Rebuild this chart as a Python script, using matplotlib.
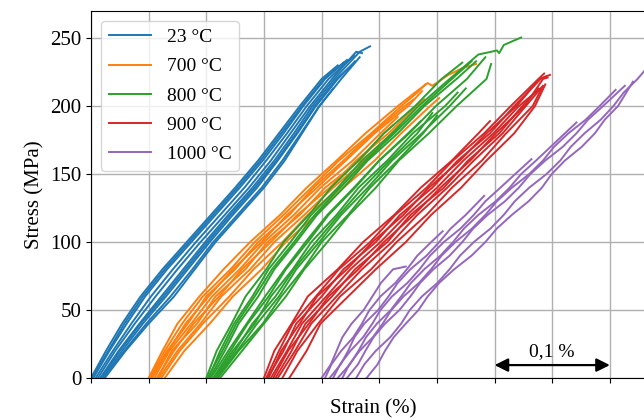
import matplotlib as mpl
mpl.use("Agg")
import matplotlib.pyplot as plt

# --- data: strain (%) at fixed stress levels (MPa) ---------------------------
# each curve = strains at the group's stress levels (until it stops) + tip points

STRESS_23 = [0, 20, 40, 60, 80, 100, 120, 140, 160, 180, 200, 220, 240]
STRAIN_23 = [
    [0.000, 0.013, 0.027, 0.043, 0.062, 0.083, 0.104, 0.125, 0.145, 0.163, 0.181, 0.200],
    [0.001, 0.015, 0.029, 0.045, 0.064, 0.085, 0.106, 0.127, 0.147, 0.165, 0.183, 0.202],
    [0.002, 0.016, 0.031, 0.047, 0.066, 0.087, 0.108, 0.129, 0.149, 0.167, 0.184, 0.203],
    [0.004, 0.019, 0.035, 0.052, 0.071, 0.091, 0.112, 0.133, 0.152, 0.170, 0.187, 0.206],
    [0.006, 0.021, 0.038, 0.056, 0.075, 0.095, 0.116, 0.137, 0.156, 0.173, 0.190, 0.209, 0.230],
    [0.008, 0.024, 0.042, 0.061, 0.080, 0.099, 0.119, 0.140, 0.159, 0.176, 0.192, 0.211, 0.233],
    [0.009, 0.025, 0.043, 0.063, 0.082, 0.101, 0.121, 0.142, 0.161, 0.178, 0.194, 0.213],
    [0.010, 0.027, 0.045, 0.065, 0.084, 0.103, 0.123, 0.144, 0.162, 0.179, 0.195, 0.214],
    [0.011, 0.029, 0.048, 0.069, 0.088, 0.106, 0.127, 0.148, 0.166, 0.182, 0.198, 0.217],
    [0.012, 0.030, 0.050, 0.072, 0.090, 0.108, 0.129, 0.150, 0.168, 0.183, 0.198],
]
TIPS_23 = [
    [(0.214, 230)], [(0.219, 232)], [(0.222, 234)], [(0.228, 237)], [(0.235, 239)],
    [(0.242, 244)], [(0.226, 230)], [(0.229, 233)], [(0.233, 236)], [(0.210, 213)],
]

STRESS_700 = [0, 20, 40, 60, 80, 100, 120, 140, 160, 180, 200, 220]
STRAIN_700 = [
    [0.050, 0.062, 0.075, 0.094, 0.115, 0.138, 0.164, 0.187, 0.213, 0.238, 0.266],
    [0.051, 0.064, 0.079, 0.097, 0.121, 0.142, 0.167, 0.191, 0.215, 0.243, 0.269],
    [0.052, 0.066, 0.084, 0.100, 0.125, 0.145, 0.172, 0.193, 0.219, 0.244, 0.272],
    [0.053, 0.067, 0.082, 0.102, 0.123, 0.148, 0.170, 0.196, 0.221, 0.246, 0.275],
    [0.055, 0.068, 0.087, 0.105, 0.129, 0.150, 0.176, 0.199, 0.227, 0.251],
    [0.057, 0.072, 0.089, 0.111, 0.131, 0.156, 0.179, 0.207, 0.230, 0.258, 0.282],
    [0.058, 0.070, 0.092, 0.108, 0.134, 0.153, 0.181, 0.203, 0.233, 0.254],
    [0.059, 0.075, 0.095, 0.113, 0.138, 0.159, 0.185, 0.210, 0.237, 0.261],
    [0.061, 0.077, 0.097, 0.120, 0.141, 0.166, 0.188, 0.216, 0.239],
    [0.064, 0.081, 0.103, 0.123, 0.148, 0.169, 0.195, 0.219, 0.246, 0.269, 0.294],
]
TIPS_700 = [
    [(0.281, 210), (0.292, 217), (0.296, 215), (0.310, 223), (0.322, 228), (0.334, 231)],
    [(0.283, 210), (0.290, 216)], [(0.280, 205)], [(0.287, 211)], [(0.266, 192)],
    [(0.289, 205)], [(0.262, 186)], [(0.268, 186)], [(0.251, 169)], [(0.302, 206)],
]

STRESS_800 = [0, 20, 40, 60, 80, 100, 120, 140, 160, 180, 200, 220, 240]
STRAIN_800 = [
    [0.100, 0.109, 0.122, 0.134, 0.152, 0.167, 0.189, 0.208, 0.232, 0.254, 0.281, 0.304],
    [0.101, 0.114, 0.126, 0.142, 0.157, 0.176, 0.194, 0.216, 0.238, 0.263, 0.287, 0.313],
    [0.102, 0.112, 0.124, 0.140, 0.154, 0.173, 0.191, 0.214, 0.235, 0.261, 0.284, 0.311],
    [0.103, 0.116, 0.128, 0.145, 0.159, 0.178, 0.196, 0.219, 0.240, 0.266, 0.289, 0.317],
    [0.104, 0.119, 0.135, 0.151, 0.168, 0.186, 0.205, 0.228, 0.250, 0.275],
    [0.106, 0.121, 0.136, 0.154, 0.169, 0.188, 0.206, 0.229, 0.250, 0.276, 0.299, 0.326],
    [0.107, 0.123, 0.142, 0.156, 0.175, 0.191, 0.213, 0.232, 0.257, 0.279, 0.307],
    [0.108, 0.125, 0.140, 0.160, 0.176, 0.195, 0.215, 0.236, 0.259, 0.283],
    [0.109, 0.127, 0.144, 0.163, 0.178, 0.198, 0.217, 0.240, 0.261, 0.287, 0.311],
    [0.110, 0.128, 0.149, 0.165, 0.184, 0.200, 0.223, 0.242, 0.266, 0.288],
    [0.112, 0.131, 0.150, 0.169, 0.185, 0.205, 0.224, 0.247, 0.267, 0.293, 0.317, 0.343],
]
TIPS_800 = [
    [(0.322, 232)],
    [(0.330, 233)],
    [(0.336, 238), (0.347, 240), (0.352, 241), (0.354, 239), (0.358, 245),
     (0.373, 250.5)],
    [(0.334, 233)], [(0.286, 189)], [(0.342, 236)], [(0.318, 210)],
    [(0.296, 195)], [(0.325, 213)], [(0.300, 193)], [(0.347, 231)],
]

STRESS_900 = [0, 20, 40, 60, 80, 100, 120, 140, 160, 180, 200, 220]
STRAIN_900 = [
    [0.150, 0.159, 0.174, 0.188, 0.214, 0.236, 0.263, 0.286, 0.313, 0.336],
    [0.152, 0.163, 0.175, 0.195, 0.215, 0.242, 0.264, 0.291, 0.314, 0.341, 0.364, 0.388],
    [0.153, 0.167, 0.178, 0.200, 0.219, 0.247, 0.268, 0.296, 0.318, 0.346, 0.367, 0.390],
    [0.154, 0.165, 0.181, 0.196, 0.222, 0.244, 0.271, 0.293, 0.320, 0.343, 0.369, 0.389],
    [0.156, 0.170, 0.183, 0.204, 0.225, 0.251, 0.274, 0.300, 0.323, 0.349, 0.371],
    [0.158, 0.171, 0.189, 0.206, 0.232, 0.254, 0.280, 0.303, 0.329, 0.351, 0.376, 0.392],
    [0.160, 0.174, 0.186, 0.209, 0.229, 0.257, 0.277, 0.306, 0.327, 0.354, 0.374],
    [0.162, 0.177, 0.191, 0.213, 0.235, 0.261, 0.283, 0.309, 0.332, 0.357, 0.377],
    [0.166, 0.179, 0.197, 0.216, 0.243, 0.265, 0.291, 0.313, 0.339, 0.360, 0.383],
    [0.172, 0.187, 0.199, 0.223, 0.247, 0.273, 0.295, 0.321, 0.343, 0.367, 0.385],
]
TIPS_900 = [
    [(0.346, 189)], [(0.393, 224)], [(0.395, 222)], [(0.398, 223)], [(0.391, 214)],
    [(0.396, 221)], [(0.388, 213)], [(0.389, 212)], [(0.392, 215)], [(0.394, 216)],
]

STRESS_1000 = [0, 10, 20, 30, 40, 50, 60, 70, 80, 90, 100, 110, 120,
               130, 140, 150, 160, 170, 180, 190, 200, 210, 220]
STRAIN_1000 = [
    [0.200, 0.208, 0.213, 0.218, 0.226, 0.2365, 0.244, 0.2515, 0.262],
    [0.203, 0.2085, 0.217, 0.2275, 0.235, 0.2415, 0.251, 0.264, 0.274, 0.283, 0.295],
    [0.207, 0.2165, 0.223, 0.2285, 0.237, 0.249, 0.258, 0.266, 0.277, 0.291, 0.302,
     0.312, 0.325],
    [0.210, 0.216, 0.225, 0.236, 0.244, 0.251, 0.261, 0.2745, 0.285, 0.294, 0.306,
     0.3205, 0.332, 0.342, 0.355],
    [0.214, 0.2245, 0.232, 0.2385, 0.248, 0.260, 0.269, 0.2775, 0.289, 0.303, 0.314,
     0.3235, 0.336, 0.351, 0.363, 0.373, 0.386],
    [0.218, 0.224, 0.233, 0.2445, 0.253, 0.2605, 0.271, 0.2845, 0.295, 0.304, 0.316,
     0.3305, 0.342, 0.352, 0.365, 0.380, 0.392, 0.4015, 0.414, 0.429, 0.441],
    [0.222, 0.2315, 0.238, 0.245, 0.255, 0.2675, 0.277, 0.2855, 0.297, 0.311, 0.322,
     0.3315, 0.344, 0.359, 0.371, 0.381, 0.394, 0.409, 0.421, 0.431, 0.444],
    [0.230, 0.237, 0.247, 0.2595, 0.269, 0.2765, 0.287, 0.3005, 0.311, 0.320, 0.332,
     0.3465, 0.358, 0.3675, 0.380, 0.395, 0.407, 0.416, 0.428, 0.442, 0.453, 0.462, 0.474],
    [0.239, 0.2485, 0.255, 0.2625, 0.273, 0.284, 0.292, 0.302, 0.315, 0.330, 0.342,
     0.352, 0.365, 0.3795, 0.391, 0.3995, 0.411, 0.4255, 0.437, 0.4455, 0.457],
]
TIPS_1000 = [
    [(0.273, 82)], [(0.305, 108)], [(0.341, 134)], [(0.382, 161)],
    [(0.421, 188)], [(0.455, 212)], [(0.463, 215)],
    [(0.480, 226), (0.495, 236)], [(0.470, 218)],
]

LABELS = ["23 °C", "700 °C", "800 °C", "900 °C", "1000 °C"]
COLORS = ["#1f77b4", "#ff7f0e", "#2ca02c", "#d62728", "#9467bd"]
GROUPS = [
    (STRESS_23, STRAIN_23, TIPS_23),
    (STRESS_700, STRAIN_700, TIPS_700),
    (STRESS_800, STRAIN_800, TIPS_800),
    (STRESS_900, STRAIN_900, TIPS_900),
    (STRESS_1000, STRAIN_1000, TIPS_1000),
]

# scale bar: 0,1 % strain
BAR_X0, BAR_X1, BAR_Y = 0.35, 0.45, 9.5

# --- figure ------------------------------------------------------------------
plt.rcParams.update({
    "font.family": "serif",
    "font.serif": ["Liberation Serif", "DejaVu Serif"],
    "font.size": 14,
})

fig = plt.figure(figsize=(6.44, 4.19), dpi=100)
ax = fig.add_axes([91 / 644, 1 - 378 / 419, 565 / 644, 367 / 419])

for (lab, col, (stress, strains, tips)) in zip(LABELS, COLORS, GROUPS):
    for k, (eps, tip) in enumerate(zip(strains, tips)):
        xs = list(eps) + [p[0] for p in tip]
        ys = list(stress[:len(eps)]) + [p[1] for p in tip]
        ax.plot(xs, ys, color=col, lw=1.4, label=lab if k == 0 else None)

ax.annotate("", xy=(BAR_X0, BAR_Y), xytext=(BAR_X1, BAR_Y),
            arrowprops=dict(arrowstyle="<|-|>", color="k", lw=1.6,
                            mutation_scale=20, shrinkA=0, shrinkB=0))
ax.text((BAR_X0 + BAR_X1) / 2, BAR_Y + 4, "0,1 %", ha="center", va="bottom",
        fontsize=14)

ax.set_xlim(0, 0.49)
ax.set_ylim(0, 270)
ax.set_xticks([0.05 * i for i in range(10)])
ax.set_xticklabels([])
ax.set_yticks([0, 50, 100, 150, 200, 250])
ax.tick_params(labelsize=15)
ax.grid(True, color="#b0b0b0", lw=1.0)
ax.set_axisbelow(True)
ax.set_xlabel("Strain (%)", fontsize=15, labelpad=8)
ax.set_ylabel("Stress (MPa)", fontsize=15)
ax.legend(loc="upper left", fontsize=14, handlelength=2.2, labelspacing=0.6)

fig.savefig("out.png", dpi=100)
